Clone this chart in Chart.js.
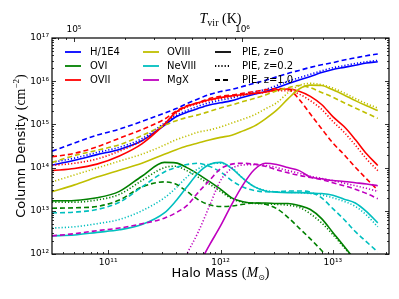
<!DOCTYPE html>
<html>
<head>
<meta charset="utf-8">
<script src="https://cdn.jsdelivr.net/npm/chart.js@4.4.0/dist/chart.umd.min.js"></script>
<style>
body { margin: 0; background: #fff; }
canvas { display: block; }
</style>
</head>
<body>
<canvas id="chart" width="399" height="299"></canvas>
<script>

// log10 halo mass grid (Msun)
var logMass = [10.5, 10.7, 10.9, 11.1, 11.3, 11.5, 11.6, 11.7, 11.8, 11.9, 12.0, 12.1, 12.2,
	12.3, 12.4, 12.5, 12.6, 12.7, 12.8, 12.9, 13.0, 13.1, 13.2, 13.3, 13.4];

// log10 column densities, z=0 / z=0.2 / z=1.0
var hZ0 = [14.06, 14.17, 14.3, 14.42, 14.62, 14.98, 15.17, 15.28, 15.37, 15.45, 15.5, 15.55, 15.63,
	15.7, 15.76, 15.85, 15.94, 16.03, 16.11, 16.2, 16.27, 16.32, 16.37, 16.42, 16.45];
var hZ02 = [14.12, 14.22, 14.35, 14.47, 14.67, 15.03, 15.2, 15.32, 15.42, 15.5, 15.56, 15.61, 15.68,
	15.75, 15.81, 15.9, 16.0, 16.08, 16.16, 16.24, 16.31, 16.36, 16.41, 16.45, 16.48];
var hZ10 = [14.38, 14.57, 14.75, 14.89, 15.07, 15.26, 15.36, 15.48, 15.59, 15.69, 15.76, 15.81, 15.88,
	15.95, 16.02, 16.1, 16.18, 16.25, 16.32, 16.38, 16.43, 16.49, 16.54, 16.59, 16.63];

var o6Z0 = [13.23, 13.24, 13.3, 13.45, 13.8, 14.12, 14.11, 14.0, 13.85, 13.68, 13.5, 13.3, 13.21,
	13.18, 13.18, 13.17, 13.17, 13.12, 13.03, 12.82, 12.5, 12.18, 11.85, 11.5, 11.2];
var o6Z02 = [13.2, 13.2, 13.25, 13.38, 13.7, 14.0, 14.03, 13.93, 13.78, 13.62, 13.45, 13.28, 13.2,
	13.17, 13.16, 13.15, 13.13, 13.08, 12.93, 12.72, 12.45, 12.15, 11.85, 11.5, 11.2];
var o6Z10 = [13.06, 13.07, 13.1, 13.25, 13.55, 13.67, 13.62, 13.45, 13.26, 13.14, 13.1, 13.11, 13.15,
	13.18, 13.15, 13.05, 12.85, 12.6, 12.35, 12.08, 11.8, 11.5, 11.2, 10.9, 10.6];

var o7Z0 = [13.93, 13.98, 14.08, 14.27, 14.55, 15.0, 15.28, 15.42, 15.5, 15.57, 15.62, 15.66, 15.69,
	15.72, 15.75, 15.8, 15.82, 15.77, 15.65, 15.46, 15.18, 14.95, 14.65, 14.32, 14.05];
var o7Z02 = [14.05, 14.1, 14.2, 14.38, 14.62, 15.0, 15.25, 15.4, 15.48, 15.55, 15.6, 15.64, 15.68,
	15.71, 15.74, 15.78, 15.78, 15.7, 15.55, 15.35, 15.07, 14.82, 14.52, 14.2, 13.93];
var o7Z10 = [14.25, 14.33, 14.48, 14.68, 14.88, 15.12, 15.3, 15.43, 15.5, 15.6, 15.65, 15.68, 15.72,
	15.76, 15.8, 15.83, 15.82, 15.58, 15.24, 14.9, 14.57, 14.3, 14.01, 13.74, 13.48];

var o8Z0 = [13.44, 13.6, 13.78, 13.94, 14.1, 14.31, 14.41, 14.5, 14.57, 14.64, 14.7, 14.75, 14.85,
	14.96, 15.13, 15.33, 15.59, 15.82, 15.91, 15.9, 15.8, 15.68, 15.55, 15.43, 15.32];
var o8Z02 = [13.67, 13.83, 13.99, 14.15, 14.31, 14.52, 14.64, 14.73, 14.82, 14.87, 14.94, 15.03, 15.12,
	15.22, 15.36, 15.5, 15.73, 15.9, 15.95, 15.92, 15.84, 15.73, 15.6, 15.48, 15.38];
var o8Z10 = [14.12, 14.28, 14.4, 14.53, 14.74, 14.98, 15.08, 15.16, 15.22, 15.3, 15.38, 15.45, 15.53,
	15.6, 15.68, 15.78, 15.85, 15.9, 15.85, 15.74, 15.63, 15.5, 15.38, 15.26, 15.14];

var ne8Z0 = [12.42, 12.44, 12.5, 12.56, 12.68, 12.95, 13.22, 13.55, 13.87, 14.07, 14.12, 13.98, 13.75,
	13.56, 13.46, 13.43, 13.42, 13.42, 13.41, 13.4, 13.36, 13.27, 13.18, 12.98, 12.72];
var ne8Z02 = [12.6, 12.63, 12.7, 12.8, 13.0, 13.3, 13.52, 13.78, 13.97, 14.08, 14.1, 14.0, 13.75,
	13.56, 13.47, 13.44, 13.43, 13.42, 13.4, 13.37, 13.3, 13.22, 13.1, 12.9, 12.63];
var ne8Z10 = [12.95, 12.97, 13.03, 13.2, 13.55, 13.9, 14.0, 14.07, 14.1, 14.03, 13.9, 13.7, 13.55,
	13.47, 13.44, 13.44, 13.46, 13.46, 13.43, 13.3, 13.05, 12.8, 12.52, 12.28, 12.05];

var mg10Z0 = [null, null, null, null, null, null, null, 11.25, 11.72, 12.2, 12.65, 13.15, 13.6,
	13.95, 14.1, 14.07, 14.0, 13.93, 13.78, 13.74, 13.7, 13.68, 13.65, 13.62, 13.58];
var mg10Z02 = [null, null, null, null, null, null, 11.5, 12.0, 12.5, 13.1, 13.7, 13.98, 14.06,
	14.07, 14.05, 14.0, 13.93, 13.87, 13.8, 13.75, 13.7, 13.64, 13.58, 13.52, 13.45];
var mg10Z10 = [12.42, 12.47, 12.54, 12.6, 12.7, 12.83, 12.95, 13.12, 13.42, 13.7, 13.97, 14.08, 14.1,
	14.08, 14.03, 13.95, 13.88, 13.82, 13.77, 13.72, 13.65, 13.58, 13.5, 13.4, 13.28];

var species = ['H/1E4', 'OVI', 'OVII', 'OVIII', 'NeVIII', 'MgX'];
var colors = ['#0000ff', '#008000', '#ff0000', '#bfbf00', '#00bfbf', '#bf00bf'];
var seriesData = [
	[hZ0, hZ02, hZ10],
	[o6Z0, o6Z02, o6Z10],
	[o7Z0, o7Z02, o7Z10],
	[o8Z0, o8Z02, o8Z10],
	[ne8Z0, ne8Z02, ne8Z10],
	[mg10Z0, mg10Z02, mg10Z10]
];
var zLabels = ['PIE, z=0', 'PIE, z=0.2', 'PIE, z=1.0'];
var dashes = [[], [1.2, 2], [5, 3]];

// axis ranges
var massMin = 3.162e10, massMax = 3.162e13;
var tvirMin = 7.41e4, tvirMax = 7.41e6;
var colMin = 1e12, colMax = 1e17;

var sups = '⁰¹²³⁴⁵⁶⁷⁸⁹';
function sup(n) {
	return String(n).split('').map(function(d){ return sups[+d]; }).join('');
}
function decadeLabel(v) {
	var e = Math.log10(v);
	if (Math.abs(e - Math.round(e)) > 1e-6) return '';
	return '10' + sup(Math.round(e));
}

var datasets = [];
var total = species.length * 3;
for (var s = 0; s < species.length; s++) {
	for (var z = 0; z < 3; z++) {
		var pts = [];
		for (var i = 0; i < logMass.length; i++) {
			var v = seriesData[s][z][i];
			pts.push({x: Math.pow(10, logMass[i]), y: v === null ? null : Math.pow(10, v)});
		}
		datasets.push({
			label: species[s] + ' ' + zLabels[z],
			data: pts,
			borderColor: colors[s],
			borderWidth: 1.6,
			borderDash: dashes[z],
			pointRadius: 0,
			fill: false,
			cubicInterpolationMode: 'monotone',
			order: total - datasets.length // later lines on top
		});
	}
}

var tickFont = {family: 'DejaVu Sans', size: 9};

function drawTicks(ctx, scale, lo, hi, edge, dir, horizontal) {
	for (var d = lo; d <= hi; d++) {
		for (var k = 1; k <= 9; k++) {
			var v = k * Math.pow(10, d);
			if (v < scale.min * 0.999 || v > scale.max * 1.001) continue;
			var p = Math.round(scale.getPixelForValue(v)) + 0.5;
			var len = k === 1 ? 4 : 2;
			ctx.beginPath();
			if (horizontal) {
				ctx.moveTo(p, edge);
				ctx.lineTo(p, edge + dir * len);
			} else {
				ctx.moveTo(edge, p);
				ctx.lineTo(edge + dir * len, p);
			}
			ctx.stroke();
		}
	}
}

function drawParts(ctx, parts, cx, y) {
	var w = 0;
	parts.forEach(function(p){ ctx.font = p.f; p.w = ctx.measureText(p.t).width; w += p.w; });
	var x = cx - w / 2;
	ctx.textAlign = 'left';
	parts.forEach(function(p){
		ctx.font = p.f;
		ctx.fillText(p.t, x, y + p.dy);
		x += p.w;
	});
}

var decor = {
	id: 'decor',
	afterDraw: function(c) {
		var ctx = c.ctx;
		var a = c.chartArea;
		ctx.save();
		ctx.strokeStyle = '#000';
		ctx.lineWidth = 1.2;
		ctx.strokeRect(a.left, a.top, a.right - a.left, a.bottom - a.top);

		ctx.lineWidth = 0.8;
		drawTicks(ctx, c.scales.x, 10, 13, a.bottom, -1, true);
		drawTicks(ctx, c.scales.x2, 4, 6, a.top, 1, true);
		drawTicks(ctx, c.scales.y, 12, 17, a.left, 1, false);
		drawTicks(ctx, c.scales.y, 12, 17, a.right, -1, false);

		// legend, 3 columns
		var rowsY = [52, 66, 80];
		var colLine = [65, 143, 215];
		var colText = [90, 167, 242];
		ctx.font = '10px "DejaVu Sans"';
		ctx.textBaseline = 'middle';
		ctx.textAlign = 'left';
		ctx.lineWidth = 1.8;
		for (var n = 0; n < 9; n++) {
			var col = Math.floor(n / 3), row = n % 3;
			var label, color, dash;
			if (col < 2) {
				label = species[n];
				color = colors[n];
				dash = [];
			} else {
				label = zLabels[row];
				color = '#000';
				dash = dashes[row];
			}
			ctx.strokeStyle = color;
			ctx.setLineDash(dash);
			ctx.beginPath();
			ctx.moveTo(colLine[col], rowsY[row]);
			ctx.lineTo(colLine[col] + 16, rowsY[row]);
			ctx.stroke();
			ctx.setLineDash([]);
			ctx.fillStyle = '#000';
			ctx.fillText(label, colText[col], rowsY[row]);
		}

		// axis titles
		ctx.textBaseline = 'alphabetic';
		ctx.fillStyle = '#000';
		var cx = (a.left + a.right) / 2;

		drawParts(ctx, [
			{t: 'T', f: 'italic 14px "Liberation Serif"', dy: 0},
			{t: 'vir', f: '10px "Liberation Serif"', dy: 3},
			{t: ' (K)', f: '14px "Liberation Serif"', dy: 0}
		], cx, 23);

		drawParts(ctx, [
			{t: 'Halo Mass ', f: '13px "DejaVu Sans"', dy: 0},
			{t: '(', f: '14px "Liberation Serif"', dy: 0},
			{t: 'M', f: 'italic 14px "Liberation Serif"', dy: 0},
			{t: '⊙', f: '8px "DejaVu Sans"', dy: 3},
			{t: ')', f: '14px "Liberation Serif"', dy: 0}
		], cx, 277);

		ctx.translate(25, (a.top + a.bottom) / 2);
		ctx.rotate(-Math.PI / 2);
		drawParts(ctx, [
			{t: 'Column Density ', f: '13px "DejaVu Sans"', dy: 0},
			{t: '(cm', f: '14px "Liberation Serif"', dy: 0},
			{t: '−2', f: '9px "Liberation Serif"', dy: -6},
			{t: ')', f: '14px "Liberation Serif"', dy: 0}
		], 0, 0);
		ctx.restore();
	}
};

var ctx = document.getElementById('chart');
var chart = new Chart(ctx, {
	type: 'line',
	data: { datasets: datasets },
	options: {
		responsive: false,
		animation: false,
		devicePixelRatio: 1,
		layout: { padding: {left: 0, right: 10, top: 0, bottom: 0} },
		plugins: {
			legend: { display: false },
			tooltip: { enabled: false }
		},
		scales: {
			x: {
				type: 'logarithmic',
				position: 'bottom',
				min: massMin,
				max: massMax,
				grid: { display: false, drawTicks: false },
				border: { display: false },
				ticks: { font: tickFont, color: '#000', padding: 3, autoSkip: false, maxRotation: 0, callback: decadeLabel },
				afterFit: function(s) { s.height = 45; }
			},
			x2: {
				type: 'logarithmic',
				position: 'top',
				display: true,
				min: tvirMin,
				max: tvirMax,
				grid: { display: false, drawTicks: false },
				border: { display: false },
				ticks: { font: tickFont, color: '#000', padding: 3, autoSkip: false, maxRotation: 0, callback: decadeLabel },
				afterFit: function(s) { s.height = 38; }
			},
			y: {
				type: 'logarithmic',
				position: 'left',
				min: colMin,
				max: colMax,
				grid: { display: false, drawTicks: false },
				border: { display: false },
				ticks: { font: tickFont, color: '#000', padding: 3, autoSkip: false, callback: decadeLabel },
				afterFit: function(s) { s.width = 52; }
			}
		}
	},
	plugins: [decor]
});

</script>
</body>
</html>
